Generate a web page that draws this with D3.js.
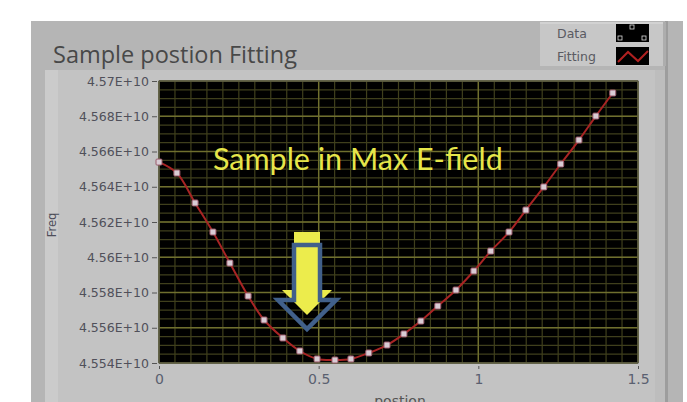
<!DOCTYPE html>
<html>
<head>
<style>
  body {
    margin: 0;
    background-color: #ffffff;
  }
  svg text {
    font-family: "DejaVu Sans", sans-serif;
  }
</style>
<script src="https://d3js.org/d3.v7.min.js"></script>
</head>
<body>
<script>
// sample position scan: freq vs position, measured points + fitted curve

const positions = [0, 0.056, 0.113, 0.169, 0.222, 0.279, 0.329, 0.388, 0.441, 0.495,
  0.551, 0.601, 0.657, 0.714, 0.767, 0.820, 0.873, 0.930, 0.986, 1.039,
  1.096, 1.149, 1.205, 1.258, 1.315, 1.368, 1.421];

const freqs = [4.56540e10, 4.56478e10, 4.56308e10, 4.56143e10, 4.55967e10, 4.55780e10,
  4.55644e10, 4.55542e10, 4.55468e10, 4.55423e10, 4.55417e10, 4.55423e10,
  4.55457e10, 4.55502e10, 4.55565e10, 4.55638e10, 4.55723e10, 4.55814e10,
  4.55922e10, 4.56035e10, 4.56143e10, 4.56268e10, 4.56399e10, 4.56529e10,
  4.56665e10, 4.56801e10, 4.56932e10];

const xTicks = [0, 0.5, 1, 1.5];
const xTickLabels = ['0', '0.5', '1', '1.5'];
const yTicks = [4.554e10, 4.556e10, 4.558e10, 4.56e10, 4.562e10, 4.564e10, 4.566e10, 4.568e10, 4.57e10];
const yTickLabels = ['4.554E+10', '4.556E+10', '4.558E+10', '4.56E+10', '4.562E+10',
  '4.564E+10', '4.566E+10', '4.568E+10', '4.57E+10'];

const legendNames = ['Data', 'Fitting'];

const width = 687, height = 402;
const plot = { left: 159, right: 638, top: 81, bottom: 363 };

const svg = d3.select('body')
  .append('svg')
  .attr('width', width)
  .attr('height', height);

// panels
svg.append('rect').attr('x', 31).attr('y', 21).attr('width', 652).attr('height', 381).attr('fill', '#b5b5b5');
svg.append('rect').attr('x', 45).attr('y', 70).attr('width', 620).attr('height', 332).attr('fill', '#c3c3c3');
svg.append('rect').attr('x', 45).attr('y', 70).attr('width', 13).attr('height', 332).attr('fill', '#cbcbcb');
svg.append('rect').attr('x', 655).attr('y', 70).attr('width', 10).attr('height', 332).attr('fill', '#bdbdbd');
svg.append('rect').attr('x', 665).attr('y', 21).attr('width', 3).attr('height', 381).attr('fill', '#9d9d9d');

// title
svg.append('text')
  .attr('x', 53).attr('y', 63)
  .attr('font-size', 23.5)
  .style('font-family', '"Open Sans", sans-serif')
  .attr('fill', '#484848')
  .text('Sample postion Fitting');

// legend
const legend = svg.append('g');
legend.append('rect').attr('x', 540).attr('y', 22).attr('width', 126).attr('height', 44).attr('fill', '#c7c7c7');
legend.append('rect').attr('x', 540).attr('y', 22).attr('width', 126).attr('height', 2).attr('fill', '#d2d2d2');
legend.append('rect').attr('x', 663).attr('y', 22).attr('width', 3).attr('height', 44).attr('fill', '#adadad');
legendNames.forEach((name, i) => {
  legend.append('text')
    .attr('x', 557).attr('y', 38 + i * 23)
    .attr('font-size', 12.5)
    .attr('fill', '#5a5a62')
    .text(name);
  legend.append('rect')
    .attr('x', 616).attr('y', 24 + i * 23)
    .attr('width', 33).attr('height', 18)
    .attr('fill', '#000');
});
[[632, 27], [620, 38], [644, 38]].forEach(p => {
  legend.append('rect').attr('x', p[0] - 2).attr('y', p[1] - 2).attr('width', 4).attr('height', 4)
    .attr('fill', 'none').attr('stroke', '#ddd').attr('stroke-width', 0.8);
});
legend.append('polyline')
  .attr('points', '618,62 628,52 638,61 648,51')
  .attr('fill', 'none').attr('stroke', '#b02020').attr('stroke-width', 2);

const x = d3.scaleLinear().domain([0, 1.5]).range([plot.left, plot.right]);
const y = d3.scaleLinear().domain([4.554e10, 4.57e10]).range([plot.bottom, plot.top]);

// plot background + grid
svg.append('rect')
  .attr('x', plot.left).attr('y', plot.top)
  .attr('width', plot.right - plot.left).attr('height', plot.bottom - plot.top)
  .attr('fill', '#000');

const grid = svg.append('g');
const minorX = d3.range(0, 31).map(i => i * 0.05);
const minorY = d3.range(0, 33).map(i => 4.554e10 + i * 5e6);
grid.selectAll('.mx').data(minorX).join('line')
  .attr('x1', d => x(d)).attr('x2', d => x(d))
  .attr('y1', plot.top).attr('y2', plot.bottom)
  .attr('stroke', '#3f3f1c').attr('stroke-width', 1.2);
grid.selectAll('.my').data(minorY).join('line')
  .attr('x1', plot.left).attr('x2', plot.right)
  .attr('y1', d => y(d)).attr('y2', d => y(d))
  .attr('stroke', '#3f3f1c').attr('stroke-width', 1.2);
grid.selectAll('.Mx').data(xTicks).join('line')
  .attr('x1', d => x(d)).attr('x2', d => x(d))
  .attr('y1', plot.top).attr('y2', plot.bottom)
  .attr('stroke', '#6f6f2e').attr('stroke-width', 1.4);
grid.selectAll('.My').data(yTicks).join('line')
  .attr('x1', plot.left).attr('x2', plot.right)
  .attr('y1', d => y(d)).attr('y2', d => y(d))
  .attr('stroke', '#6f6f2e').attr('stroke-width', 1.4);

svg.append('rect')
  .attr('x', plot.left).attr('y', plot.top)
  .attr('width', plot.right - plot.left).attr('height', plot.bottom - plot.top)
  .attr('fill', 'none').attr('stroke', '#555').attr('stroke-width', 1);

// axes
const yAxis = svg.append('g')
  .attr('transform', `translate(${plot.left - 2},0)`)
  .call(d3.axisLeft(y).tickValues(yTicks).tickSize(5).tickPadding(3)
    .tickFormat((d, i) => yTickLabels[i]));
yAxis.select('.domain').remove();
yAxis.selectAll('line').attr('stroke', '#555');
yAxis.selectAll('text')
  .attr('font-size', 12.5)
  .attr('fill', '#50505a');

const xAxis = svg.append('g')
  .attr('transform', `translate(0,${plot.bottom + 3})`)
  .call(d3.axisBottom(x).tickValues(xTicks).tickSize(3).tickPadding(5)
    .tickFormat((d, i) => xTickLabels[i]));
xAxis.select('.domain').remove();
xAxis.selectAll('line').attr('stroke', '#555');
xAxis.selectAll('text')
  .attr('font-size', 14)
  .attr('fill', '#5a6070');

svg.append('text')
  .attr('transform', 'translate(56,225) rotate(-90)')
  .attr('text-anchor', 'middle')
  .attr('font-size', 11.5)
  .attr('fill', '#4e4e5a')
  .text('Freq');

svg.append('text')
  .attr('x', 400).attr('y', 406)
  .attr('text-anchor', 'middle')
  .attr('font-size', 14)
  .attr('fill', '#555')
  .text('postion');

// fitting line + data points
const pts = positions.map((p, i) => [p, freqs[i]]);
const line = d3.line()
  .x(d => x(d[0]))
  .y(d => y(d[1]))
  .curve(d3.curveCatmullRom);

svg.append('path')
  .datum(pts)
  .attr('d', line)
  .attr('fill', 'none')
  .attr('stroke', '#a82424')
  .attr('stroke-width', 2);

svg.selectAll('.pt').data(pts).join('rect')
  .attr('x', d => x(d[0]) - 3)
  .attr('y', d => y(d[1]) - 3)
  .attr('width', 6).attr('height', 6)
  .attr('rx', 1)
  .attr('fill', '#d9ccd4')
  .attr('stroke', '#9a5a6a')
  .attr('stroke-width', 1);

// annotation
svg.append('text')
  .attr('x', 213).attr('y', 170)
  .attr('font-size', 30.5)
  .style('font-family', 'Lato, sans-serif')
  .attr('fill', '#e6e64a')
  .text('Sample in Max E-field');

const arrow = svg.append('g');
arrow.append('path')
  .attr('d', 'M294,232 L320,232 L320,290 L332,290 L307,315 L282,290 L294,290 Z')
  .attr('fill', '#ecec4c');
arrow.append('path')
  .attr('d', 'M294,245 L320,245 L320,300 L336,300 L307,329 L278,300 L294,300 Z')
  .attr('fill', 'none')
  .attr('stroke', '#41608a')
  .attr('stroke-width', 4.5)
  .attr('stroke-linejoin', 'miter');
</script>
</body>
</html>
